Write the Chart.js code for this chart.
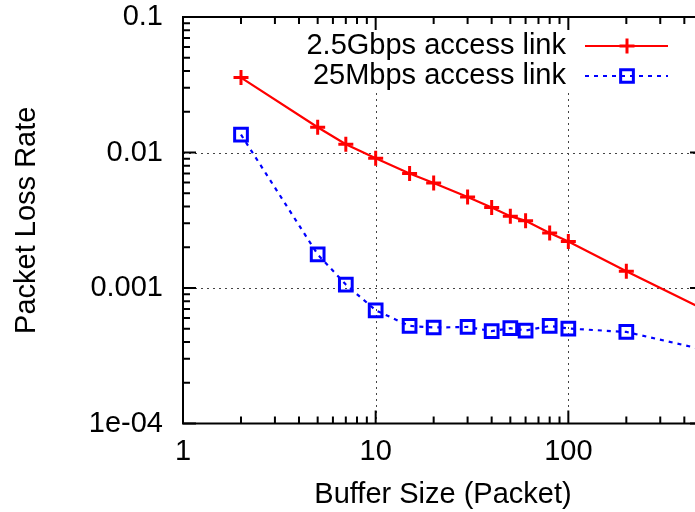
<!DOCTYPE html>
<html>
<head>
<meta charset="utf-8">
<script src="https://cdn.jsdelivr.net/npm/chart.js@4.4.1/dist/chart.umd.min.js"></script>
<style>
  html, body { margin: 0; padding: 0; background: #fff; overflow: hidden; }
  #wrap { width: 695px; height: 512px; overflow: hidden; }
</style>
</head>
<body>
<div id="wrap"><canvas id="myChart" width="715" height="512"></canvas></div>
<script>
// values
let bufferSizes = [2, 5, 7, 10, 15, 20, 30, 40, 50, 60, 80, 100, 200, 500];
let lossFast = [0.0357, 0.01535, 0.0115, 0.00907, 0.00699, 0.00596, 0.0047, 0.00392, 0.00339, 0.00313, 0.00255, 0.0022, 0.00133, 0.0007];
let lossSlow = [0.01355, 0.00177, 0.00106, 0.000685, 0.000525, 0.000511, 0.000516, 0.00048, 0.000505, 0.000485, 0.000525, 0.000502, 0.000474, 0.000352];
let seriesLabels = ['2.5Gbps access link', '25Mbps access link'];
let xTicks = [1, 10, 100];
let xTickLabels = ['1', '10', '100'];
let yTicks = [0.0001, 0.001, 0.01, 0.1];
let yTickLabels = ['1e-04', '0.001', '0.01', '0.1'];

const font = { family: 'Liberation Sans, Arial, sans-serif', size: 29 };
const ctx = document.getElementById('myChart');

function toPoints(ys) {
  return bufferSizes.map((b, i) => ({ x: b, y: ys[i] }));
}

// decade minor ticks like gnuplot
function logTickValues(min, max) {
  let out = [];
  for (let k = Math.floor(Math.log10(min)); k <= Math.ceil(Math.log10(max)); k++) {
    for (let m = 1; m <= 9; m++) {
      let v = m * Math.pow(10, k);
      if (v >= min * 0.9999 && v <= max * 1.0001) out.push({ v: v, major: m === 1 });
    }
  }
  return out;
}

const gnuFrame = {
  id: 'gnuFrame',
  beforeDatasetsDraw(chart) {
    const { ctx, chartArea: a, scales: { x, y } } = chart;
    ctx.save();
    ctx.strokeStyle = '#444';
    ctx.lineWidth = 1;
    ctx.setLineDash([2, 4]);
    xTicks.forEach(v => {
      if (v <= x.min || v >= x.max) return;
      let px = Math.round(x.getPixelForValue(v)) + 0.5;
      ctx.beginPath(); ctx.moveTo(px, 93); ctx.lineTo(px, a.bottom); ctx.stroke();
    });
    yTicks.forEach(v => {
      if (v <= y.min || v >= y.max) return;
      let py = Math.round(y.getPixelForValue(v)) + 0.5;
      ctx.beginPath(); ctx.moveTo(a.left, py); ctx.lineTo(a.right, py); ctx.stroke();
    });
    ctx.restore();
  },
  afterDatasetsDraw(chart) {
    const { ctx, chartArea: a, scales: { x, y } } = chart;
    ctx.save();
    ctx.strokeStyle = '#000';
    ctx.lineWidth = 2;
    ctx.setLineDash([]);
    ctx.strokeRect(a.left, a.top, a.right - a.left, a.bottom - a.top);
    ctx.beginPath();
    logTickValues(x.min, x.max).forEach(t => {
      let px = x.getPixelForValue(t.v);
      let len = t.major ? 13 : 7;
      ctx.moveTo(px, a.bottom); ctx.lineTo(px, a.bottom - len);
      ctx.moveTo(px, a.top); ctx.lineTo(px, a.top + len);
    });
    logTickValues(y.min, y.max).forEach(t => {
      let py = y.getPixelForValue(t.v);
      let len = t.major ? 13 : 7;
      ctx.moveTo(a.left, py); ctx.lineTo(a.left + len, py);
      ctx.moveTo(a.right, py); ctx.lineTo(a.right - len, py);
    });
    ctx.stroke();
    ctx.restore();
  },
  afterDraw(chart) {
    // key inside the plot, text right aligned, sample on the right
    const c = chart.ctx;
    const rows = [46, 76];
    c.save();
    c.font = font.size + 'px ' + font.family;
    c.fillStyle = '#000';
    c.textAlign = 'right';
    c.textBaseline = 'middle';
    chart.data.datasets.forEach((ds, i) => {
      let yy = rows[i];
      c.fillText(ds.label, 566, yy);
      c.strokeStyle = ds.borderColor;
      c.lineWidth = ds.borderWidth;
      c.setLineDash(ds.borderDash || []);
      c.beginPath(); c.moveTo(585, yy); c.lineTo(668, yy); c.stroke();
      c.setLineDash([]);
      c.lineWidth = ds.pointBorderWidth;
      c.fillStyle = 'rgba(0,0,0,0)';
      Chart.helpers.drawPoint(c, { pointStyle: ds.pointStyle, radius: ds.pointRadius, borderWidth: ds.pointBorderWidth, rotation: 0 }, 627, yy);
      c.fillStyle = '#000';
    });
    c.restore();
  }
};

new Chart(ctx, {
  type: 'line',
  data: {
    datasets: [{
      label: seriesLabels[0],
      data: toPoints(lossFast),
      borderColor: '#ff0000',
      borderWidth: 2.2,
      pointStyle: 'cross',
      pointRadius: 7.5,
      pointBorderWidth: 3,
      pointBorderColor: '#ff0000',
      pointBackgroundColor: 'rgba(0,0,0,0)',
      tension: 0
    }, {
      label: seriesLabels[1],
      data: toPoints(lossSlow),
      borderColor: '#0000ff',
      borderWidth: 2.2,
      borderDash: [4, 5],
      pointStyle: 'rect',
      pointRadius: 9,
      pointBorderWidth: 3,
      pointBorderColor: '#0000ff',
      pointBackgroundColor: 'rgba(0,0,0,0)',
      tension: 0
    }]
  },
  options: {
    responsive: false,
    animation: false,
    layout: { padding: { top: 17, right: 11, bottom: 0, left: 0 } },
    plugins: { legend: { display: false }, tooltip: { enabled: false } },
    scales: {
      x: {
        type: 'logarithmic',
        min: 1,
        max: 500,
        grid: { display: false, drawTicks: false },
        border: { display: false },
        afterBuildTicks: s => { s.ticks = xTicks.map(v => ({ value: v })); },
        afterFit: s => { s.height = 88.5; s.paddingLeft = 0; s.paddingRight = 0; },
        ticks: {
          font: font, color: '#000', padding: 11, maxRotation: 0, autoSkip: false,
          callback: (v, i) => xTickLabels[i]
        },
        title: { display: true, text: 'Buffer Size (Packet)', font: font, color: '#000', padding: { top: 0, bottom: 0 } }
      },
      y: {
        type: 'logarithmic',
        min: 0.0001,
        max: 0.1,
        grid: { display: false, drawTicks: false },
        border: { display: false },
        afterBuildTicks: s => { s.ticks = yTicks.map(v => ({ value: v })); },
        afterFit: s => { s.width = 183; s.paddingTop = 0; s.paddingBottom = 0; },
        ticks: {
          font: font, color: '#000', padding: 20, autoSkip: false,
          callback: (v, i) => yTickLabels[i]
        },
        title: { display: true, text: 'Packet Loss Rate', font: font, color: '#000', padding: { top: 10, bottom: 0 } }
      }
    }
  },
  plugins: [gnuFrame]
});
</script>
</body>
</html>
